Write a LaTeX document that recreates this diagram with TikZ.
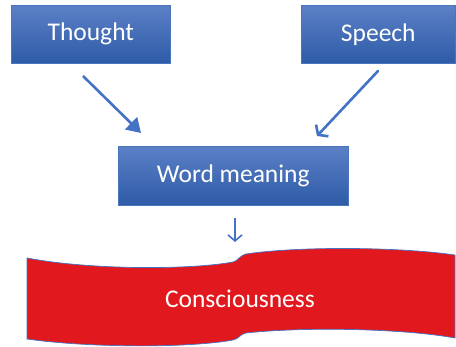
\documentclass[tikz,border=0pt]{standalone}
\usepackage{fontspec}
\setmainfont{Carlito}
\usetikzlibrary{arrows.meta}
\definecolor{boxtop}{HTML}{5B80C6}
\definecolor{boxbot}{HTML}{2E5BA7}
\definecolor{boxline}{HTML}{4A74BC}
\definecolor{arrowblue}{HTML}{4472C4}
\definecolor{bannerred}{HTML}{E1191F}
\tikzset{
  bluebox/.style={draw=boxline, line width=0.6pt, top color=boxtop, bottom color=boxbot,
    text=white, font=\fontsize{25.5}{30}\selectfont, inner sep=0pt, anchor=north west},
  bigarrow/.style={draw=arrowblue, line width=2.6pt},
}
\begin{document}
\begin{tikzpicture}[x=1pt,y=-1pt]
\useasboundingbox (0,0) rectangle (456,347);

% the three blue boxes
\node[bluebox, minimum width=159pt, minimum height=58pt] (th) at (11,5) {Thought};
\node[bluebox, minimum width=154pt, minimum height=58pt] (sp) at (301,5) {Speech};
\node[bluebox, minimum width=230pt, minimum height=59pt] (wm) at (118,146) {Word meaning};

% arrow end points
\coordinate (thA) at (83,76);
\coordinate (thB) at (141,133);
\coordinate (spA) at (378,71);
\coordinate (spB) at (317,136);
\coordinate (wmA) at (235,218);
\coordinate (wmB) at (235,242);

\draw[bigarrow, -{Triangle[length=14pt,width=17pt]}] (thA) -- (thB);
\draw[bigarrow, -{Straight Barb[length=6pt,width=17pt]}, line cap=round] (spA) -- (spB);
\draw[draw=arrowblue, line width=1.6pt, -{Straight Barb[length=6pt,width=14pt]}] (wmA) -- (wmB);

% waved red banner
\filldraw[fill=bannerred, draw=arrowblue, line width=0.7pt]
  (27,258) .. controls (90,270) and (190,270) .. (233,262)
  .. controls (238,261) and (239,256) .. (246,254)
  .. controls (300,246) and (400,247) .. (455,255)
  -- (455,338)
  .. controls (400,328) and (300,327) .. (246,333)
  .. controls (240,334) and (239,339) .. (233,340)
  .. controls (190,348) and (90,348) .. (27,339)
  -- cycle;
\node[text=white, font=\fontsize{25.5}{30}\selectfont] (cs) at (240,299) {Consciousness};
\end{tikzpicture}
\end{document}
